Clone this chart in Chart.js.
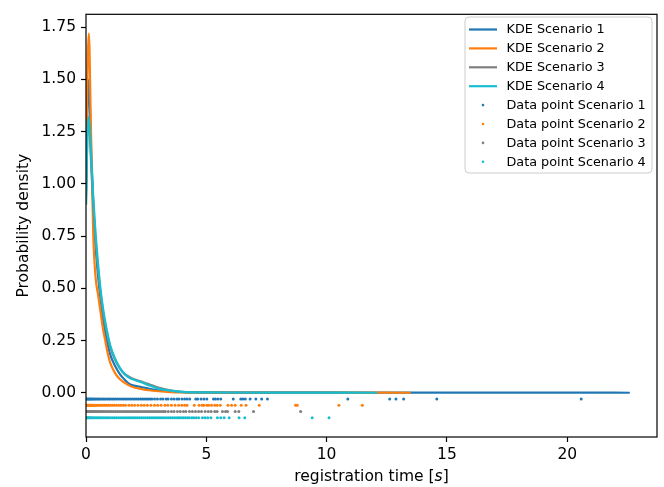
<!DOCTYPE html>
<html>
<head>
<meta charset="utf-8">
<script src="https://cdn.jsdelivr.net/npm/chart.js@4.4.1/dist/chart.umd.min.js"></script>
<style>
  html, body { margin: 0; padding: 0; background: #fff; }
  #wrap { width: 664px; height: 487px; }
</style>
</head>
<body>
<div id="wrap"><canvas id="kdeChart" width="664" height="487"></canvas></div>
<script>
// KDE evaluation grid (seconds) shared by the early part of every curve
const kdeGrid = [0, 0.05, 0.12, 0.2, 0.3, 0.4, 0.5, 0.6, 0.7, 0.8, 0.9, 1.0, 1.2, 1.4, 1.6, 1.8, 2.0, 2.3, 2.6, 3.0, 3.5, 4.0, 5.0, 6.0, 8.0];

// density values on kdeGrid, then a flat tail out to each scenario's end
const kde1 = [0.95, 1.30, 1.50, 1.20, 0.91, 0.70, 0.56, 0.45, 0.36, 0.29, 0.23, 0.185, 0.13, 0.09, 0.063, 0.042, 0.034, 0.027, 0.020, 0.012, 0.006, 0.003, 0.0015, 0.0008, 0.0004];
const kde2 = [1.00, 1.45, 1.72, 1.30, 0.76, 0.55, 0.47, 0.39, 0.31, 0.25, 0.19, 0.145, 0.095, 0.066, 0.048, 0.034, 0.025, 0.018, 0.012, 0.007, 0.003, 0.0015, 0.0007, 0.0005, 0.0003];
const kde3 = [0.90, 1.20, 1.32, 1.13, 0.90, 0.73, 0.59, 0.48, 0.395, 0.325, 0.27, 0.22, 0.16, 0.118, 0.09, 0.076, 0.065, 0.053, 0.042, 0.025, 0.011, 0.004, 0.0015, 0.0008, 0.0004];
const kde4 = [0.90, 1.20, 1.32, 1.16, 0.94, 0.76, 0.62, 0.50, 0.41, 0.34, 0.28, 0.23, 0.165, 0.12, 0.09, 0.071, 0.062, 0.050, 0.036, 0.020, 0.010, 0.004, 0.0015, 0.0010, 0.0005];

const tailX1 = [10.9, 13.0, 14.6, 20.6, 22.6];
const tailY1 = [0.0003, 0.0004, 0.0002, 0.0002, 0];
const tailX2 = [11.5, 13.5];
const tailY2 = [0.0002, 0];
const tailX3 = [8.9, 10.9];
const tailY3 = [0.0002, 0];
const tailX4 = [10.1, 12.1];
const tailY4 = [0.0003, 0];

// raw registration times per scenario
const times1 = [0.02, 0.06, 0.1, 0.13, 0.17, 0.21, 0.25, 0.3, 0.34, 0.39, 0.44, 0.5, 0.55, 0.61, 0.68, 0.74, 0.8, 0.87, 0.94, 1.0,
  1.08, 1.15, 1.22, 1.3, 1.38, 1.46, 1.54, 1.62, 1.7, 1.78, 1.86, 1.94, 2.02, 2.1, 2.18, 2.26, 2.34, 2.42, 2.5, 2.58, 2.66, 2.74,
  2.85, 2.97, 3.1, 3.2, 3.33, 3.41, 3.55, 3.66, 3.78, 3.86, 3.99, 4.1, 4.2, 4.31, 4.56, 4.64, 4.78, 4.9, 5.02, 5.3, 5.38, 5.48, 5.6,
  6.12, 6.43, 6.52, 6.62, 6.82, 7.06, 7.3, 7.54, 10.88, 12.62, 12.88, 13.2, 14.58, 20.58];
const times2 = [0.01, 0.04, 0.07, 0.1, 0.13, 0.16, 0.2, 0.24, 0.28, 0.32, 0.37, 0.42, 0.47, 0.53, 0.59, 0.65, 0.72, 0.79, 0.86, 0.94,
  1.02, 1.1, 1.18, 1.27, 1.36, 1.45, 1.55, 1.64, 1.78, 1.9, 2.02, 2.16, 2.3, 2.42, 2.55, 2.7, 2.85, 2.98, 3.12, 3.28, 3.4, 3.55,
  3.7, 3.85, 3.98, 4.1, 4.2, 4.5, 4.7, 4.82, 4.9, 5.02, 5.1, 5.22, 5.35, 5.45, 5.58, 5.9, 6.05, 6.2, 6.45, 6.65, 7.2,
  8.71, 8.78, 10.51, 11.48];
const times3 = [0.02, 0.05, 0.09, 0.12, 0.16, 0.2, 0.24, 0.28, 0.33, 0.38, 0.43, 0.48, 0.54, 0.6, 0.66, 0.72, 0.79, 0.86, 0.93, 1.0,
  1.07, 1.15, 1.23, 1.31, 1.39, 1.47, 1.55, 1.63, 1.71, 1.79, 1.87, 1.95, 2.03, 2.11, 2.19, 2.27, 2.35, 2.43, 2.51, 2.59, 2.67,
  2.75, 2.83, 2.91, 2.99, 3.07, 3.15, 3.23, 3.3, 3.42, 3.55, 3.66, 3.8, 3.92, 4.05, 4.15, 4.3, 4.42, 4.55, 4.68, 4.8, 4.95, 5.08,
  5.2, 5.35, 5.45, 5.67, 5.8, 5.88, 6.2, 6.35, 6.96, 8.92];
const times4 = [0.02, 0.05, 0.09, 0.13, 0.17, 0.21, 0.26, 0.31, 0.36, 0.42, 0.48, 0.54, 0.6, 0.67, 0.74, 0.81, 0.88, 0.95, 1.03,
  1.11, 1.19, 1.27, 1.35, 1.43, 1.51, 1.59, 1.67, 1.75, 1.83, 1.91, 1.99, 2.07, 2.15, 2.23, 2.31, 2.39, 2.47, 2.55, 2.63, 2.71,
  2.79, 2.87, 2.95, 3.03, 3.11, 3.19, 3.27, 3.35, 3.43, 3.51, 3.59, 3.67, 3.75, 3.83, 3.9, 3.98, 4.06, 4.14, 4.22, 4.3, 4.4, 4.48,
  4.58, 4.68, 4.84, 4.95, 5.06, 5.19, 5.46, 5.6, 5.74, 5.95, 6.36, 6.6, 9.4, 10.1];

// each scenario's raw points sit on their own row below zero
const rowLevels = [-0.03, -0.06, -0.09, -0.12];

const scenarioNames = ['Scenario 1', 'Scenario 2', 'Scenario 3', 'Scenario 4'];
const xTicks = [0, 5, 10, 15, 20];
const yTicks = [0, 0.25, 0.5, 0.75, 1.0, 1.25, 1.5, 1.75];

const colors = ['#1f77b4', '#ff7f0e', '#7f7f7f', '#17becf'];
const FONT = '"DejaVu Sans", sans-serif';
const tickSize = 15.5;
const legendSize = 12.8;

function curve(ys, tailX, tailY) {
  const pts = kdeGrid.map((x, i) => ({ x: x, y: ys[i] }));
  tailX.forEach((x, i) => pts.push({ x: x, y: tailY[i] }));
  return pts;
}

function row(times, level) {
  return times.map(t => ({ x: t, y: level }));
}

const kdeSets = [
  curve(kde1, tailX1, tailY1),
  curve(kde2, tailX2, tailY2),
  curve(kde3, tailX3, tailY3),
  curve(kde4, tailX4, tailY4)
];
const timeSets = [times1, times2, times3, times4];

const datasets = [];
kdeSets.forEach((pts, i) => {
  datasets.push({
    type: 'line',
    label: 'KDE ' + scenarioNames[i],
    data: pts,
    borderColor: colors[i],
    backgroundColor: colors[i],
    borderWidth: 2.2,
    pointRadius: 0,
    cubicInterpolationMode: 'monotone',
    fill: false,
    order: 8 - i
  });
});
timeSets.forEach((times, i) => {
  datasets.push({
    type: 'scatter',
    label: 'Data point ' + scenarioNames[i],
    data: row(times, rowLevels[i]),
    backgroundColor: colors[i],
    borderWidth: 0,
    pointRadius: 1.5,
    pointHoverRadius: 1.5,
    order: 4 - i
  });
});

// frame, axis titles and the boxed legend
const decorations = {
  id: 'decorations',
  afterDraw(chart) {
    const ctx = chart.ctx;
    const a = chart.chartArea;
    ctx.save();

    ctx.strokeStyle = '#000';
    ctx.lineWidth = 1.2;
    ctx.strokeRect(a.left, a.top, a.right - a.left, a.bottom - a.top);

    // x title, the unit symbol is set in italics
    ctx.fillStyle = '#000';
    ctx.textBaseline = 'middle';
    ctx.textAlign = 'left';
    const normal = tickSize + 'px ' + FONT;
    const italic = 'oblique ' + tickSize + 'px ' + FONT;
    const parts = [['registration time [', normal], ['s', italic], [']', normal]];
    let total = 0;
    parts.forEach(p => { ctx.font = p[1]; total += ctx.measureText(p[0]).width; });
    let x = (a.left + a.right) / 2 - total / 2;
    parts.forEach(p => {
      ctx.font = p[1];
      ctx.fillText(p[0], x, 477);
      x += ctx.measureText(p[0]).width;
    });

    // y title
    ctx.save();
    ctx.translate(24, (a.top + a.bottom) / 2);
    ctx.rotate(-Math.PI / 2);
    ctx.textAlign = 'center';
    ctx.font = normal;
    ctx.fillText('Probability density', 0, 0);
    ctx.restore();

    // legend box
    const bx = 465, by = 17, bw = 187, bh = 156, r = 4;
    ctx.beginPath();
    ctx.moveTo(bx + r, by);
    ctx.arcTo(bx + bw, by, bx + bw, by + bh, r);
    ctx.arcTo(bx + bw, by + bh, bx, by + bh, r);
    ctx.arcTo(bx, by + bh, bx, by, r);
    ctx.arcTo(bx, by, bx + bw, by, r);
    ctx.closePath();
    ctx.fillStyle = 'rgba(255,255,255,0.8)';
    ctx.fill();
    ctx.strokeStyle = '#cccccc';
    ctx.lineWidth = 1;
    ctx.stroke();

    ctx.font = legendSize + 'px ' + FONT;
    ctx.textBaseline = 'middle';
    chart.data.datasets.forEach((ds, i) => {
      const cy = 29.5 + i * 18.9;
      if (ds.type === 'line') {
        ctx.strokeStyle = ds.borderColor;
        ctx.lineWidth = 2.2;
        ctx.beginPath();
        ctx.moveTo(469, cy);
        ctx.lineTo(497, cy);
        ctx.stroke();
      } else {
        ctx.fillStyle = ds.backgroundColor;
        ctx.beginPath();
        ctx.arc(483, cy, 1.3, 0, Math.PI * 2);
        ctx.fill();
      }
      ctx.fillStyle = '#000';
      ctx.fillText(ds.label, 506.5, cy + 0.5);
    });

    ctx.restore();
  }
};

new Chart(document.getElementById('kdeChart'), {
  data: { datasets: datasets },
  plugins: [decorations],
  options: {
    responsive: false,
    animation: false,
    devicePixelRatio: 1,
    events: [],
    layout: { padding: { top: 12, right: 7, left: 0, bottom: 0 } },
    plugins: {
      legend: { display: false },
      tooltip: { enabled: false }
    },
    scales: {
      x: {
        type: 'linear',
        min: 0,
        max: 23.73,
        afterFit: s => { s.height = 50; },
        afterBuildTicks: s => { s.ticks = xTicks.map(v => ({ value: v })); },
        border: { display: false },
        grid: { drawOnChartArea: false, drawTicks: true, tickLength: 5, tickColor: '#000', tickWidth: 1.2 },
        ticks: {
          color: '#000',
          padding: 4,
          maxRotation: 0,
          font: { family: FONT, size: tickSize },
          callback: v => String(v)
        }
      },
      y: {
        type: 'linear',
        min: -0.212,
        max: 1.812,
        afterFit: s => { s.width = 86; },
        afterBuildTicks: s => { s.ticks = yTicks.map(v => ({ value: v })); },
        border: { display: false },
        grid: { drawOnChartArea: false, drawTicks: true, tickLength: 5, tickColor: '#000', tickWidth: 1.2 },
        ticks: {
          color: '#000',
          padding: 5,
          font: { family: FONT, size: tickSize },
          callback: v => Number(v).toFixed(2)
        }
      }
    }
  }
});
</script>
</body>
</html>
